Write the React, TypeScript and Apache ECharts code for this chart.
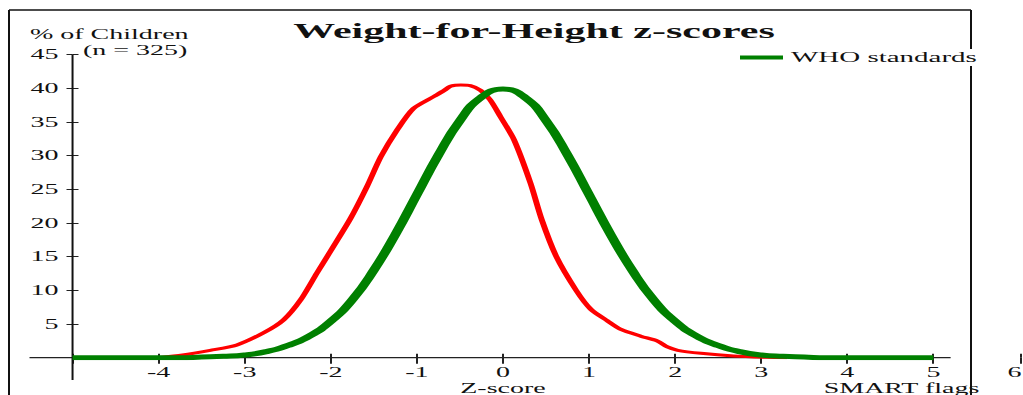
import React, { useEffect, useRef } from "react";
import * as echarts from "echarts";

// ---- Text ----
const chartTitle = "Weight-for-Height z-scores";
const yTitleLine1 = "% of Children";
const yTitleLine2 = "(n = 325)";
const xTitle = "Z-score";
const flagsTitle = "SMART flags";
const whoName = "WHO standards";
const surveyName = "Survey";

// ---- Axis ticks / labels ----
const xTickValues = [-5, -4, -3, -2, -1, 0, 1, 2, 3, 4, 5, 6];
const xLabelValues = [-4, -3, -2, -1, 0, 1, 2, 3, 4, 5, 6];
const yTickValues = [5, 10, 15, 20, 25, 30, 35, 40, 45];
const xAxisLineExtent = [-5.5, 5.2];
const yAxisLineAt = -5;
const yAxisLineExtent = [-3.3, 45];

// ---- WHO standards curve ----
const whoZ = [
  -5, -4.75, -4.5, -4.25, -4, -3.75, -3.5, -3.25, -3, -2.75, -2.5, -2.25, -2, -1.75, -1.5, -1.25, -1,
  -0.75, -0.5, -0.25, 0, 0.25, 0.5, 0.75, 1, 1.25, 1.5, 1.75, 2, 2.25, 2.5, 2.75, 3, 3.25, 3.5, 3.75,
  4, 4.25, 4.5, 4.75, 5,
];
const whoPct = [
  0, 0, 0, 0, 0, 0, 0.1, 0.2, 0.4, 0.9, 1.8, 3.2, 5.4, 8.6, 13.0, 18.3, 24.2, 30.1, 35.2, 38.7, 39.9,
  38.7, 35.2, 30.1, 24.2, 18.3, 13.0, 8.6, 5.4, 3.2, 1.8, 0.9, 0.4, 0.2, 0.1, 0, 0, 0, 0, 0, 0,
];

// ---- Survey curve ----
const surveyZ = [
  -4.0, -3.72, -3.4, -3.09, -2.78, -2.55, -2.35, -2.16, -1.97, -1.77, -1.58, -1.42, -1.23, -1.04, -0.8,
  -0.68, -0.61, -0.49, -0.38, -0.26, -0.15, -0.03, 0.13, 0.32, 0.45, 0.62, 0.85, 1.02, 1.21, 1.37, 1.6,
  1.79, 1.91, 2.03, 2.3, 2.68, 3.07, 3.3,
];
const surveyPct = [
  0, 0.4, 1.1, 1.9, 3.7, 5.6, 8.6, 12.6, 16.5, 20.7, 25.4, 29.8, 33.8, 37.0, 38.8, 39.7, 40.3, 40.5,
  40.4, 39.7, 38.3, 35.8, 32.3, 25.9, 20.5, 15.0, 10.0, 7.2, 5.5, 4.2, 3.2, 2.5, 1.6, 1.1, 0.65, 0.25,
  0.05, 0,
];

const PAGE_W = 1023;
const PAGE_H = 395;
const STRETCH = 2;
const CHART_W = PAGE_W / STRETCH;
const FONT = "'Liberation Serif', 'Times New Roman', serif";
const INK = "#111";

export default function App() {
  const ref = useRef<HTMLDivElement>(null);

  useEffect(() => {
    if (!ref.current) return;
    const chart = echarts.init(ref.current, null, { renderer: "svg" });

    const whoData = whoZ.map((z, i) => [z, whoPct[i]]);
    const surveyData = surveyZ.map((z, i) => [z, surveyPct[i]]);
    const xAxisLineData = xAxisLineExtent.map((z) => [z, 0]);
    const yAxisLineData = yAxisLineExtent.map((v) => [yAxisLineAt, v]);
    const lastXLabel = xLabelValues[xLabelValues.length - 1];

    const baseX = {
      type: "value",
      min: -5.5,
      max: 6,
      position: "bottom",
      splitLine: { show: false },
      axisLine: { show: false, onZero: false },
    };
    const baseY = {
      type: "value",
      min: 0,
      max: 45,
      position: "left",
      offset: -21.5,
      splitLine: { show: false },
      axisLine: { show: false, onZero: false },
    };

    chart.setOption({
      animation: false,
      backgroundColor: "#fff",
      textStyle: { fontFamily: FONT, color: INK },
      title: {
        text: chartTitle,
        left: 267,
        top: 20,
        padding: 0,
        textAlign: "center",
        textStyle: { fontFamily: FONT, fontSize: 21, fontWeight: "bold", color: INK },
      },
      legend: {
        data: [whoName],
        left: 370,
        top: 49,
        padding: [1, 0, 1, 0],
        backgroundColor: "#fff",
        icon: "rect",
        itemWidth: 21.5,
        itemHeight: 4,
        itemGap: 0,
        textStyle: { fontFamily: FONT, fontSize: 14.5, color: INK, padding: [0, 0, 0, -1] },
      },
      grid: {
        left: 14.75,
        right: 2.25,
        top: 54.6,
        bottom: 37.3,
        containLabel: false,
        outerBoundsMode: "none",
      },
      xAxis: [
        {
          ...baseX,
          axisTick: {
            show: true,
            inside: false,
            length: 6,
            customValues: xTickValues,
            lineStyle: { color: "#222", width: 1 },
          },
          axisLabel: {
            show: true,
            margin: 8,
            customValues: xLabelValues,
            fontFamily: FONT,
            fontSize: 14,
            color: INK,
            formatter: (v: number) => (v === lastXLabel ? `{edge|${v}}` : `${v}`),
            rich: {
              edge: { fontFamily: FONT, fontSize: 14, color: INK, padding: [0, 5, 0, 0] },
            },
          },
        },
        {
          ...baseX,
          axisTick: {
            show: true,
            inside: true,
            length: 4,
            customValues: xTickValues,
            lineStyle: { color: "#222", width: 1 },
          },
          axisLabel: { show: false },
        },
      ],
      yAxis: [
        {
          ...baseY,
          axisTick: {
            show: true,
            inside: false,
            length: 3,
            customValues: yTickValues,
            lineStyle: { color: "#222", width: 1 },
          },
          axisLabel: {
            show: true,
            margin: 7,
            customValues: yTickValues,
            fontFamily: FONT,
            fontSize: 14,
            color: INK,
          },
        },
        {
          ...baseY,
          axisTick: {
            show: true,
            inside: true,
            length: 3,
            customValues: yTickValues,
            lineStyle: { color: "#222", width: 1 },
          },
          axisLabel: { show: false },
        },
      ],
      graphic: [
        {
          type: "line",
          z: 0,
          silent: true,
          shape: { x1: 4.5, y1: 10, x2: 485.5, y2: 10 },
          style: { stroke: "#111", lineWidth: 1.5 },
        },
        {
          type: "line",
          z: 0,
          silent: true,
          shape: { x1: 4.5, y1: 10, x2: 4.5, y2: PAGE_H },
          style: { stroke: "#111", lineWidth: 1 },
        },
        {
          type: "line",
          z: 0,
          silent: true,
          shape: { x1: 485.5, y1: 10, x2: 485.5, y2: PAGE_H },
          style: { stroke: "#111", lineWidth: 1 },
        },
        {
          type: "text",
          x: 15,
          y: 34,
          style: {
            text: yTitleLine1,
            font: `14px ${FONT}`,
            fill: INK,
            textAlign: "left",
            textVerticalAlign: "middle",
          },
        },
        {
          type: "text",
          x: 41.5,
          y: 50,
          style: {
            text: yTitleLine2,
            font: `14px ${FONT}`,
            fill: INK,
            textAlign: "left",
            textVerticalAlign: "middle",
          },
        },
        {
          type: "text",
          x: 251.5,
          y: 388,
          style: {
            text: xTitle,
            font: `14px ${FONT}`,
            fill: INK,
            textAlign: "center",
            textVerticalAlign: "middle",
          },
        },
        {
          type: "text",
          x: 450.75,
          y: 388,
          style: {
            text: flagsTitle,
            font: `14px ${FONT}`,
            fill: INK,
            textAlign: "center",
            textVerticalAlign: "middle",
          },
        },
      ],
      series: [
        {
          name: "x-axis",
          type: "line",
          data: xAxisLineData,
          z: 1,
          silent: true,
          clip: false,
          symbol: "none",
          lineStyle: { color: "#222", width: 1.2 },
        },
        {
          name: "y-axis",
          type: "line",
          data: yAxisLineData,
          z: 1,
          silent: true,
          clip: false,
          symbol: "none",
          lineStyle: { color: "#111", width: 1 },
        },
        {
          name: surveyName,
          type: "line",
          data: surveyData,
          z: 2,
          smooth: 0.25,
          symbol: "none",
          showSymbol: false,
          color: "#ff0000",
          lineStyle: { color: "#ff0000", width: 3 },
        },
        {
          name: whoName,
          type: "line",
          data: whoData,
          z: 3,
          smooth: true,
          symbol: "none",
          showSymbol: false,
          color: "#008000",
          itemStyle: { color: "#008000" },
          lineStyle: { color: "#008000", width: 5 },
        },
      ],
    });

    return () => chart.dispose();
  }, []);

  return (
    <div
      style={{
        position: "fixed",
        left: 0,
        top: 0,
        width: PAGE_W,
        height: PAGE_H,
        overflow: "hidden",
        background: "#fff",
      }}
    >
      <div
        ref={ref}
        style={{
          width: CHART_W,
          height: PAGE_H,
          transform: `scaleX(${STRETCH})`,
          transformOrigin: "0 0",
        }}
      />
    </div>
  );
}
